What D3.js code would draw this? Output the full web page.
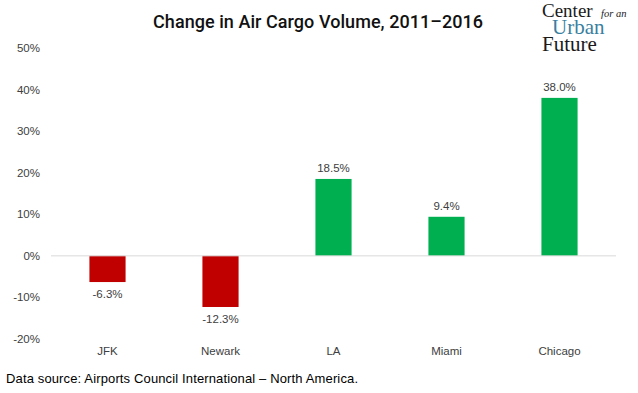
<!DOCTYPE html>
<html><head><meta charset="utf-8">
<script src="https://cdn.jsdelivr.net/npm/d3@7"></script>
<style>body{margin:0;background:#fff}svg{display:block}</style>
</head><body>
<script>
const categories = ["JFK","Newark","LA","Miami","Chicago"];
const values = [-6.3,-12.3,18.5,9.4,38.0];
const yTicks = [-20,-10,0,10,20,30,40,50];

const W=638,H=393;
const svg=d3.select("body").append("svg").attr("width",W).attr("height",H);
const x=d3.scaleBand().domain(categories).range([51,616]).paddingInner(0.68).paddingOuter(0.34);
const y=d3.scaleLinear().domain([-20,50]).range([339,48]);
const font="'Liberation Sans', Arial, sans-serif";

svg.append("text").attr("x",318).attr("y",28).attr("text-anchor","middle")
  .attr("font-family","Roboto, 'Liberation Sans', sans-serif").attr("font-weight",500)
  .attr("font-size",18).attr("fill","#111").attr("textLength",330)
  .text("Change in Air Cargo Volume, 2011\u20132016");

// y axis labels
svg.append("g").selectAll("text").data(yTicks).join("text")
  .attr("x",40).attr("y",d=>y(d)+4).attr("text-anchor","end")
  .attr("font-family",font).attr("font-size",11.5).attr("fill","#404040")
  .text(d=>d+"%");

// bars
svg.append("g").selectAll("rect").data(values).join("rect")
  .attr("x",(d,i)=>x(categories[i])).attr("width",x.bandwidth())
  .attr("y",d=>y(Math.max(0,d))).attr("height",d=>Math.abs(y(d)-y(0)))
  .attr("fill",d=>d<0?"#C00000":"#00B050");

// zero line
svg.append("line").attr("x1",51).attr("x2",616).attr("y1",y(0)).attr("y2",y(0))
  .attr("stroke","#d9d9d9").attr("stroke-width",1);

// value labels
svg.append("g").selectAll("text").data(values).join("text")
  .attr("x",(d,i)=>x(categories[i])+x.bandwidth()/2)
  .attr("y",d=>d<0?y(d)+16:y(d)-7).attr("text-anchor","middle")
  .attr("font-family",font).attr("font-size",11.5).attr("fill","#404040")
  .text(d=>d.toFixed(1)+"%");

// category labels
svg.append("g").selectAll("text").data(categories).join("text")
  .attr("x",d=>x(d)+x.bandwidth()/2).attr("y",355).attr("text-anchor","middle")
  .attr("font-family",font).attr("font-size",11.5).attr("fill","#404040")
  .text(d=>d);

svg.append("text").attr("x",6).attr("y",383).attr("font-family",font).attr("font-size",13).attr("fill","#000")
  .attr("textLength",352)
  .text("Data source: Airports Council International \u2013 North America.");

// logo
const lg=svg.append("text").attr("font-family","'Liberation Serif', 'DejaVu Serif', serif").attr("fill","#1a1a1a");
lg.append("tspan").attr("x",542).attr("y",17).attr("font-size",19).text("Center");
lg.append("tspan").attr("x",601).attr("y",17).attr("font-size",10.5).attr("font-style","italic").text("for an");
lg.append("tspan").attr("x",552).attr("y",34).attr("font-size",21).attr("fill","#3a7fa0").text("Urban");
lg.append("tspan").attr("x",542).attr("y",51).attr("font-size",21).text("Future");
</script>
</body></html>
